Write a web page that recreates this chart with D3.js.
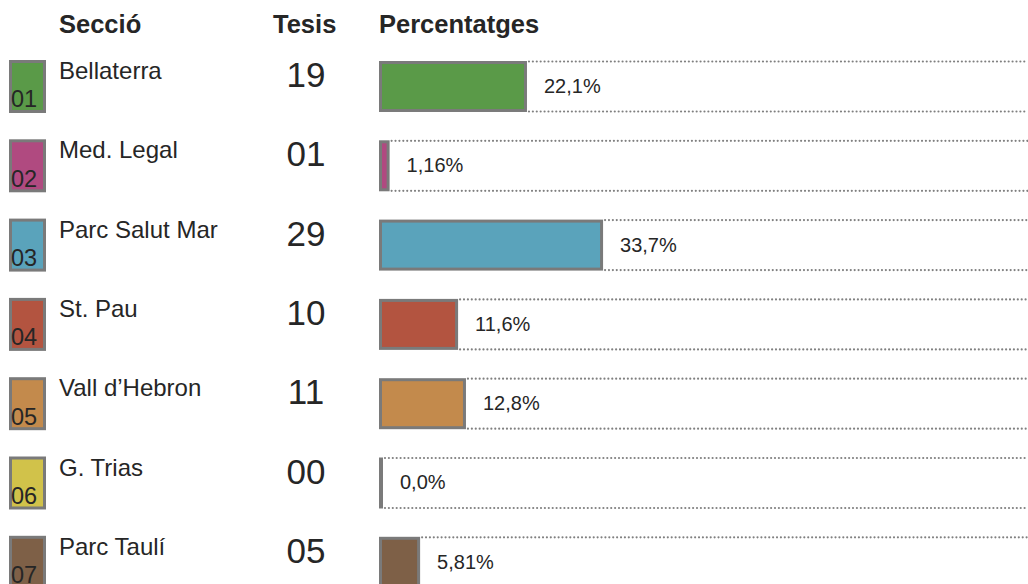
<!DOCTYPE html>
<html><head><meta charset="utf-8">
<script src="https://cdn.jsdelivr.net/npm/d3@7"></script>
<style>body{margin:0;background:#fff}svg{display:block}</style>
</head><body>
<svg id="c" width="1028" height="584"></svg>
<script>
const codes = ["01","02","03","04","05","06","07"];
const sections = ["Bellaterra","Med. Legal","Parc Salut Mar","St. Pau","Vall d\u2019Hebron","G. Trias","Parc Taul\u00ed"];
const theses = ["19","01","29","10","11","00","05"];
const percents = [22.1, 1.16, 33.7, 11.6, 12.8, 0.0, 5.81];
const percentLabels = ["22,1%","1,16%","33,7%","11,6%","12,8%","0,0%","5,81%"];
const colors = ["#5a9a48","#b04a80","#5aa3bb","#b35440","#c38a4c","#d1c24a","#7e6047"];
const headers = ["Secci\u00f3","Tesis","Percentatges"];

const svg = d3.select("#c");
const font = "'Liberation Sans', Arial, sans-serif";
const txt = "#262626";
const stroke = "#7a7a7a";

const step = 79.3;
const y = d3.scaleBand().domain(codes)
  .range([61 - 0.1785*step, 61 - 0.1785*step + codes.length*step])
  .paddingInner(0.357).paddingOuter(0.1785);
const barX = 379;
const x = d3.scaleLinear().domain([0,100]).range([0,656]);

// headers
const hx = [59, 273, 379];
svg.selectAll("text.h").data(headers).join("text").attr("class","h")
  .attr("x",(d,i)=>hx[i]).attr("y",33)
  .attr("font-family",font).attr("font-weight","bold").attr("font-size",25.5)
  .attr("fill",txt).text(d=>d);

const rows = svg.selectAll("g.row").data(codes).join("g").attr("class","row")
  .attr("transform",d=>`translate(0,${y(d)})`);
const bh = y.bandwidth();

// swatches
rows.append("rect").attr("x",10.5).attr("y",0.5).attr("width",34).attr("height",bh-1)
  .attr("fill",(d,i)=>colors[i]).attr("stroke",stroke).attr("stroke-width",3);
rows.append("text").attr("x",11).attr("y",bh-4.5)
  .attr("font-family",font).attr("font-size",23.5).attr("fill",txt).text(d=>d);

// names
rows.append("text").attr("x",59).attr("y",18)
  .attr("font-family",font).attr("font-size",24).attr("fill",txt).text((d,i)=>sections[i]);
// theses
rows.append("text").attr("x",306).attr("y",26).attr("text-anchor","middle")
  .attr("font-family",font).attr("font-size",35).attr("fill",txt).text((d,i)=>theses[i]);

// bars
const bw = i => Math.max(x(percents[i]), 1);
rows.each(function(d,i){
  const g = d3.select(this);
  const right = barX + bw(i) + 3;
  [0.5, bh-0.5].forEach(yy=>{
    g.append("line").attr("x1",right+2).attr("x2",1028).attr("y1",yy).attr("y2",yy)
      .attr("stroke","#808080").attr("stroke-width",2.2).attr("stroke-linecap","round")
      .attr("stroke-dasharray","0,3.9");
  });
  g.append("rect").attr("x",barX+1.5).attr("y",1.5).attr("width",bw(i)).attr("height",bh-3)
    .attr("fill",colors[i]).attr("stroke",stroke).attr("stroke-width",3);
  g.append("text").attr("x",right+17).attr("y",bh/2+6.5)
    .attr("font-family",font).attr("font-size",20).attr("fill",txt).text(percentLabels[i]);
});
</script>
</body></html>
